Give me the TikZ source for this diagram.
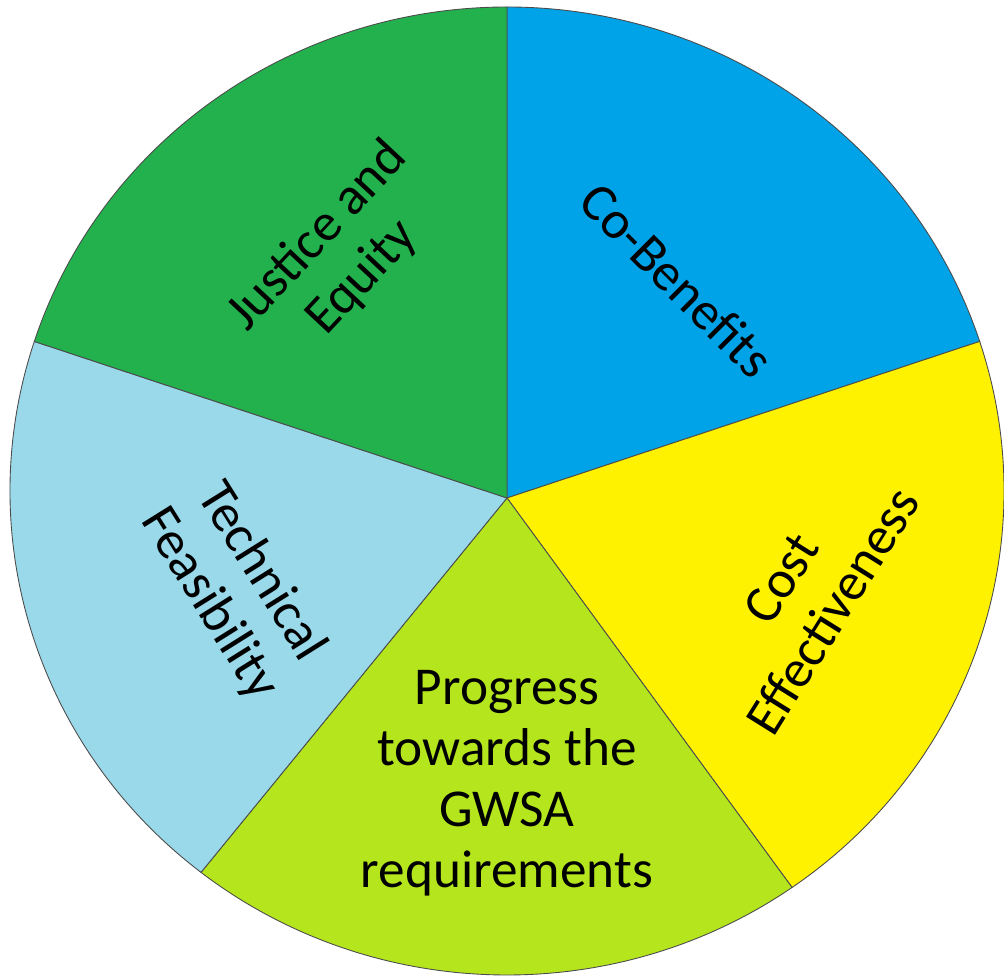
\documentclass[tikz,border=0pt]{standalone}
\usepackage{fontspec}
\setmainfont{Carlito}
\usetikzlibrary{calc}

\definecolor{justgreen}{RGB}{34,177,76}
\definecolor{coblue}{RGB}{0,162,232}
\definecolor{costyellow}{RGB}{255,242,0}
\definecolor{proglime}{RGB}{181,230,29}
\definecolor{techblue}{RGB}{153,217,234}

\tikzset{
  slice/.style={draw=gray!60!black, line width=0.5pt},
  crit/.style={align=center, inner sep=0pt, font=\fontsize{30.3}{34.7}\selectfont}
}

\begin{document}
\begin{tikzpicture}[x=0.2mm,y=0.2mm]
% Bounding box of the picture
\useasboundingbox (0,0) rectangle (1004,977);

% o = middle of the rim, c = where the slices meet
\coordinate (o) at (507,486);
\coordinate (c) at (507,479);

%slices
\filldraw[slice, fill=coblue] (c) -- ($(o)+(90:497 and 484)$) arc[start angle=90, end angle=18, x radius=497, y radius=484] -- cycle;
\filldraw[slice, fill=costyellow] (c) -- ($(o)+(18:497 and 484)$) arc[start angle=18, end angle=-55, x radius=497, y radius=484] -- cycle;
\filldraw[slice, fill=proglime] (c) -- ($(o)+(-55:497 and 484)$) arc[start angle=-55, end angle=-128, x radius=497, y radius=484] -- cycle;
\filldraw[slice, fill=techblue] (c) -- ($(o)+(-128:497 and 484)$) arc[start angle=-128, end angle=-198, x radius=497, y radius=484] -- cycle;
\filldraw[slice, fill=justgreen] (c) -- ($(o)+(162:497 and 484)$) arc[start angle=162, end angle=90, x radius=497, y radius=484] -- cycle;

%labels
\node[crit, rotate=47] (justice) at (340,720) {Justice and\\Equity};
\node[crit, rotate=-45] (cobenefits) at (677,697) {Co-Benefits};
\node[crit, rotate=58] (cost) at (807,382) {Cost\\Effectiveness};
\node[crit] (progress) at (507,194) {Progress\\towards the\\GWSA\\requirements};
\node[crit, rotate=-58] (technical) at (235,389) {Technical\\Feasibility};

\end{tikzpicture}
\end{document}
